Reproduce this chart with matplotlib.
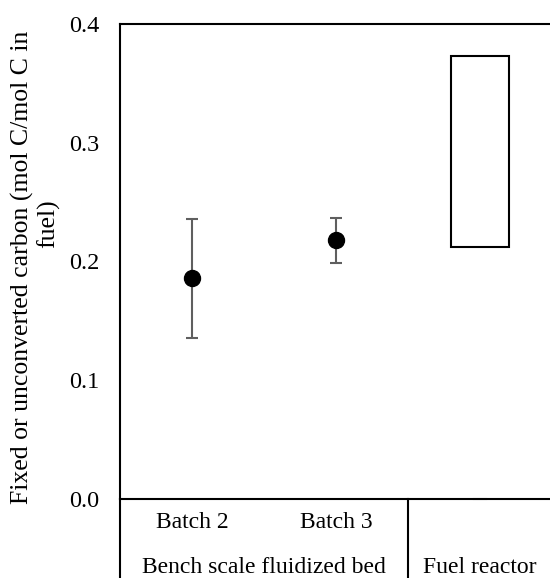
import matplotlib
matplotlib.use("Agg")
import matplotlib.pyplot as plt

plt.rcParams["font.family"] = ["Liberation Serif", "DejaVu Serif"]
plt.rcParams["font.size"] = 17

# Data
batch_labels = ["Batch 2", "Batch 3"]
group_labels = ["Bench scale fluidized bed", "Fuel reactor"]
batch_mean = [0.186, 0.218]
batch_err_low = [0.1354, 0.199]
batch_err_high = [0.2355, 0.2365]
reactor_low = 0.2124
reactor_high = 0.373
reactor_zero = 0.0

fig = plt.figure(figsize=(5.5, 5.78), dpi=100)
W, H = 550, 578
ax = fig.add_axes([120 / W, 1 - 498.7 / H, 432 / W, 474.7 / H])

x_batch = [0, 1]
yerr = [[m - lo for m, lo in zip(batch_mean, batch_err_low)],
        [hi - m for m, hi in zip(batch_mean, batch_err_high)]]
ax.errorbar(x_batch, batch_mean, yerr=yerr, fmt="none", ecolor="#5f5f5f",
            elinewidth=1.5, capsize=4.3, capthick=1.5, zorder=2)
ax.plot(x_batch, batch_mean, "o", color="black", markersize=11.5, zorder=3)

# fuel reactor range box
ax.bar([2], [reactor_high - reactor_low], bottom=reactor_low, width=0.4,
       facecolor="white", edgecolor="black", linewidth=1.5, zorder=2)
ax.plot([2 - 0.042, 2 + 0.042], [reactor_zero, reactor_zero], color="#8c8c8c",
        lw=1.5, zorder=1, clip_on=False)

ax.set_xlim(-0.5, 2.5)
ax.set_ylim(0, 0.4)
ax.set_yticks([0.0, 0.1, 0.2, 0.3, 0.4])
ax.set_yticklabels(["0.0", "0.1", "0.2", "0.3", "0.4"], fontsize=17.5)
ax.tick_params(axis="y", length=0, pad=15)
ax.set_xticks([])
for s in ["left", "top", "bottom"]:
    ax.spines[s].set_linewidth(1.5)
ax.spines["right"].set_visible(False)

# category axis below the plot
trans = ax.get_xaxis_transform()
depth = -(H - 498.7) / 474.7
for xv in [-0.5, 1.5]:
    ax.plot([xv, xv], [0, depth], color="black", lw=1.5, transform=trans,
            clip_on=False)
for xv, lab in zip(x_batch, batch_labels):
    ax.text(xv, -24 / 474.7, lab, transform=trans, ha="center", va="center")
ax.text(0.5, -69 / 474.7, group_labels[0], transform=trans, ha="center",
        va="center")
ax.text(2, -69 / 474.7, group_labels[1], transform=trans, ha="center",
        va="center")

# y label (two wrapped lines as in the reference)
fig.text(22 / W, 1 - 267 / H, "Fixed or unconverted carbon (mol C/mol C in",
         rotation=90, ha="center", va="center", fontsize=18.5)
fig.text(48 / W, 1 - 224 / H, "fuel)", rotation=90, ha="center", va="center",
         fontsize=18.5)

fig.savefig("out.png", dpi=100)
